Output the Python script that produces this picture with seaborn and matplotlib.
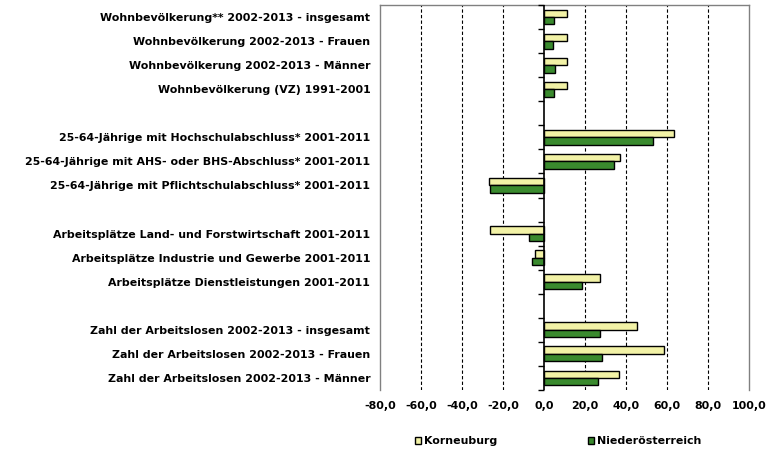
import numpy as np
import pandas as pd
import seaborn as sns
import matplotlib.pyplot as plt
from matplotlib.ticker import FuncFormatter

categories = [
    "Wohnbevölkerung** 2002-2013 - insgesamt",
    "Wohnbevölkerung 2002-2013 - Frauen",
    "Wohnbevölkerung 2002-2013 - Männer",
    "Wohnbevölkerung (VZ) 1991-2001",
    " ",
    "25-64-Jährige mit Hochschulabschluss* 2001-2011",
    "25-64-Jährige mit AHS- oder BHS-Abschluss* 2001-2011",
    "25-64-Jährige mit Pflichtschulabschluss* 2001-2011",
    "  ",
    "Arbeitsplätze Land- und Forstwirtschaft 2001-2011",
    "Arbeitsplätze Industrie und Gewerbe 2001-2011",
    "Arbeitsplätze Dienstleistungen 2001-2011",
    "   ",
    "Zahl der Arbeitslosen 2002-2013 - insgesamt",
    "Zahl der Arbeitslosen 2002-2013 - Frauen",
    "Zahl der Arbeitslosen 2002-2013 - Männer",
]
korneuburg = [11.2, 11.2, 11.2, 11.2, np.nan, 63.4, 37.1, -26.8, np.nan,
              -26.3, -4.4, 27.3, np.nan, 45.4, 58.5, 36.6]
noe = [4.9, 4.4, 5.4, 4.9, np.nan, 53.2, 34.1, -26.3, np.nan,
       -7.3, -5.9, 18.5, np.nan, 27.3, 28.3, 26.3]
series = ["Korneuburg", "Niederösterreich"]
xticks = [-80, -60, -40, -20, 0, 20, 40, 60, 80, 100]

df = pd.DataFrame({
    "cat": categories * 2,
    "val": korneuburg + noe,
    "series": [series[0]] * len(categories) + [series[1]] * len(categories),
}).dropna()

sns.set_style("white")
plt.rcParams['font.family'] = ['DejaVu Sans']
plt.rcParams['text.color'] = 'black'
plt.rcParams['xtick.color'] = 'black'
plt.rcParams['ytick.color'] = 'black'

fig = plt.figure(figsize=(7.77, 4.58), dpi=100)
ax = fig.add_axes([380 / 777, 1 - 390 / 458, 369 / 777, 385 / 458])

sns.barplot(data=df, y="cat", x="val", hue="series", order=categories,
            hue_order=series, orient="h", width=0.62,
            palette=["#FFFF99", "#2F991F"], edgecolor="black", linewidth=1,
            ax=ax, legend=True, errorbar=None)

ax.set_xlim(-80, 100)
ax.set_ylim(len(categories) - 0.5, -0.5)
ax.set_xticks(xticks)
ax.xaxis.set_major_formatter(FuncFormatter(lambda v, p: f"{v:.1f}".replace(".", ",")))
for t in xticks:
    if t not in (-80, 0, 100):
        ax.axvline(t, color="black", linestyle=(0, (3, 2)), linewidth=0.8, zorder=0)
ax.axvline(0, color="black", linewidth=1.2, zorder=3)
bounds = np.arange(-0.5, len(categories) + 0.5, 1)
ax.plot(np.zeros_like(bounds), bounds, linestyle="none", marker=0,
        markersize=4, color="black", markeredgewidth=1, zorder=3, clip_on=False)

ax.set_xlabel("")
ax.set_ylabel("")
ax.tick_params(axis="y", length=0, pad=7, labelsize=7.9, labelcolor="black")
ax.tick_params(axis="x", length=0, pad=8, labelsize=7.9, labelcolor="black")
for lab in ax.get_yticklabels() + ax.get_xticklabels():
    lab.set_fontweight("bold")

for s in ["left", "right", "top"]:
    ax.spines[s].set_color("#808080")
    ax.spines[s].set_linewidth(1)
ax.spines["bottom"].set_visible(False)

handles, labels = ax.get_legend_handles_labels()
ax.legend_.remove()
leg = fig.legend(handles, labels, loc="center", bbox_to_anchor=(0.718, 1 - 441 / 458),
                 ncol=2, frameon=False, handlelength=0.6, handleheight=0.6,
                 columnspacing=8.3, handletextpad=0.2,
                 prop={"size": 7.9, "weight": "bold"})
for txt in leg.get_texts():
    txt.set_color("black")

fig.savefig("out.png", dpi=100)
